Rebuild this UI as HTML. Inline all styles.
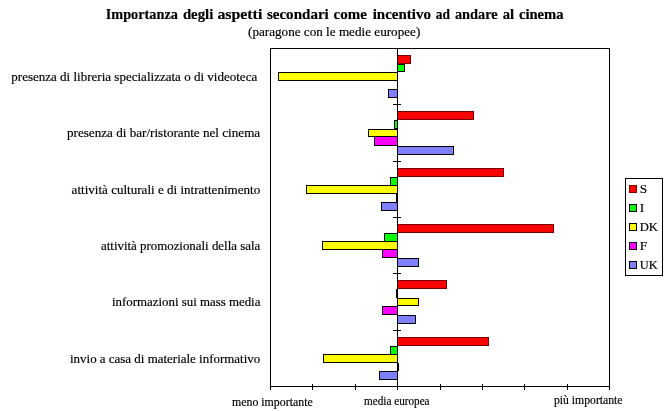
<!DOCTYPE html>
<html><head><meta charset="utf-8"><title>Importanza degli aspetti secondari</title>
<style>
html,body{margin:0;padding:0;background:#fff}
body{width:667px;height:411px;position:relative;overflow:hidden}
svg text{font-family:"Liberation Serif",serif;fill:#000;white-space:pre;stroke:#000;stroke-width:0.18px}
</style></head><body>
<svg width="667" height="411" viewBox="0 0 667 411" style="position:absolute;left:0;top:0">
<g shape-rendering="crispEdges">
<rect x="397.5" y="55.5" width="13" height="8" fill="#ff0000" stroke="#7a0000" stroke-width="1"/>
<rect x="397.5" y="64.5" width="7" height="7" fill="#00ff00" stroke="#000" stroke-width="1"/>
<rect x="278.5" y="72.5" width="119" height="8" fill="#ffff00" stroke="#000" stroke-width="1"/>
<rect x="388.5" y="89.5" width="9" height="8" fill="#8080ff" stroke="#000" stroke-width="1"/>
<rect x="397.5" y="111.5" width="76" height="8" fill="#ff0000" stroke="#7a0000" stroke-width="1"/>
<rect x="394.5" y="120.5" width="3" height="8" fill="#00ff00" stroke="#000" stroke-width="1"/>
<rect x="368.5" y="129.5" width="29" height="7" fill="#ffff00" stroke="#000" stroke-width="1"/>
<rect x="374.5" y="136.5" width="23" height="9" fill="#ff00ff" stroke="#000" stroke-width="1"/>
<rect x="397.5" y="146.5" width="56" height="8" fill="#8080ff" stroke="#000" stroke-width="1"/>
<rect x="397.5" y="168.5" width="106" height="8" fill="#ff0000" stroke="#7a0000" stroke-width="1"/>
<rect x="390.5" y="177.5" width="7" height="8" fill="#00ff00" stroke="#000" stroke-width="1"/>
<rect x="306.5" y="185.5" width="91" height="8" fill="#ffff00" stroke="#000" stroke-width="1"/>
<rect x="396" y="194" width="2" height="8" fill="#000"/>
<rect x="381.5" y="202.5" width="16" height="8" fill="#8080ff" stroke="#000" stroke-width="1"/>
<rect x="397.5" y="224.5" width="156" height="8" fill="#ff0000" stroke="#7a0000" stroke-width="1"/>
<rect x="384.5" y="233.5" width="13" height="8" fill="#00ff00" stroke="#000" stroke-width="1"/>
<rect x="322.5" y="241.5" width="75" height="8" fill="#ffff00" stroke="#000" stroke-width="1"/>
<rect x="382.5" y="249.5" width="15" height="8" fill="#ff00ff" stroke="#000" stroke-width="1"/>
<rect x="397.5" y="258.5" width="21" height="8" fill="#8080ff" stroke="#000" stroke-width="1"/>
<rect x="397.5" y="280.5" width="49" height="8" fill="#ff0000" stroke="#7a0000" stroke-width="1"/>
<rect x="396" y="289" width="2" height="9" fill="#000"/>
<rect x="397.5" y="298.5" width="21" height="7" fill="#ffff00" stroke="#000" stroke-width="1"/>
<rect x="382.5" y="306.5" width="15" height="8" fill="#ff00ff" stroke="#000" stroke-width="1"/>
<rect x="397.5" y="315.5" width="18" height="8" fill="#8080ff" stroke="#000" stroke-width="1"/>
<rect x="397.5" y="337.5" width="91" height="8" fill="#ff0000" stroke="#7a0000" stroke-width="1"/>
<rect x="390.5" y="346.5" width="7" height="8" fill="#00ff00" stroke="#000" stroke-width="1"/>
<rect x="323.5" y="354.5" width="74" height="8" fill="#ffff00" stroke="#000" stroke-width="1"/>
<rect x="397" y="363" width="2" height="8" fill="#000"/>
<rect x="379.5" y="371.5" width="18" height="8" fill="#8080ff" stroke="#000" stroke-width="1"/>
<rect x="270.5" y="48.5" width="339" height="338" fill="none" stroke="#000" stroke-width="1"/>
<rect x="397" y="48" width="1" height="338" fill="#000"/>
<rect x="393" y="104" width="8" height="1" fill="#000"/>
<rect x="393" y="161" width="8" height="1" fill="#000"/>
<rect x="393" y="217" width="8" height="1" fill="#000"/>
<rect x="393" y="273" width="8" height="1" fill="#000"/>
<rect x="393" y="330" width="8" height="1" fill="#000"/>
<rect x="270" y="384" width="1" height="6" fill="#000"/>
<rect x="312" y="384" width="1" height="6" fill="#000"/>
<rect x="355" y="384" width="1" height="6" fill="#000"/>
<rect x="397" y="384" width="1" height="6" fill="#000"/>
<rect x="440" y="384" width="1" height="6" fill="#000"/>
<rect x="482" y="384" width="1" height="6" fill="#000"/>
<rect x="524" y="384" width="1" height="6" fill="#000"/>
<rect x="567" y="384" width="1" height="6" fill="#000"/>
<rect x="609" y="384" width="1" height="6" fill="#000"/>
<rect x="625.5" y="178.5" width="37" height="97" fill="#fff" stroke="#000"/>
<rect x="629.5" y="185.5" width="7" height="7" fill="#ff0000" stroke="#7a0000"/>
<rect x="629.5" y="204.5" width="7" height="7" fill="#00ff00" stroke="#000"/>
<rect x="629.5" y="223.5" width="7" height="7" fill="#ffff00" stroke="#000"/>
<rect x="629.5" y="242.5" width="7" height="7" fill="#ff00ff" stroke="#000"/>
<rect x="629.5" y="261.5" width="7" height="7" fill="#8080ff" stroke="#000"/>
</g>
<text y="19" font-size="14.67" font-weight="bold"><tspan x="105.7" textLength="72.2" lengthAdjust="spacingAndGlyphs">Importanza</tspan> <tspan x="182.9" textLength="30.4" lengthAdjust="spacingAndGlyphs">degli</tspan> <tspan x="217.4" textLength="44.9" lengthAdjust="spacingAndGlyphs">aspetti</tspan> <tspan x="266.9" textLength="61.9" lengthAdjust="spacingAndGlyphs">secondari</tspan> <tspan x="333.5" textLength="33.3" lengthAdjust="spacingAndGlyphs">come</tspan> <tspan x="372.7" textLength="58.3" lengthAdjust="spacingAndGlyphs">incentivo</tspan> <tspan x="435.8" textLength="14.2" lengthAdjust="spacingAndGlyphs">ad</tspan> <tspan x="454.9" textLength="42.8" lengthAdjust="spacingAndGlyphs">andare</tspan> <tspan x="502.7" textLength="11.4" lengthAdjust="spacingAndGlyphs">al</tspan> <tspan x="518.9" textLength="44.7" lengthAdjust="spacingAndGlyphs">cinema</tspan></text>
<text x="248" y="36" font-size="13.33" textLength="172.3" lengthAdjust="spacingAndGlyphs">(paragone con le medie europee)</text>
<text x="11.3" y="81" font-size="13.33" textLength="245.9" lengthAdjust="spacingAndGlyphs">presenza di libreria specializzata o di videoteca</text>
<text x="67" y="137" font-size="13.33" textLength="193.2" lengthAdjust="spacingAndGlyphs">presenza di bar/ristorante nel cinema</text>
<text x="71.6" y="194" font-size="13.33" textLength="188.6" lengthAdjust="spacingAndGlyphs">attività culturali e di intrattenimento</text>
<text x="101" y="250" font-size="13.33" textLength="159.2" lengthAdjust="spacingAndGlyphs">attività promozionali della sala</text>
<text x="112" y="305.6" font-size="13.33" textLength="148.4" lengthAdjust="spacingAndGlyphs">informazioni sui mass media</text>
<text x="70" y="362.8" font-size="13.33" textLength="190.2" lengthAdjust="spacingAndGlyphs">invio a casa di materiale informativo</text>
<text x="232" y="406" font-size="12.6" textLength="80.7" lengthAdjust="spacingAndGlyphs">meno importante</text>
<text x="364" y="405" font-size="12.6" textLength="65.6" lengthAdjust="spacingAndGlyphs">media europea</text>
<text x="554" y="404" font-size="12.6" textLength="68.5" lengthAdjust="spacingAndGlyphs">più importante</text>
<text x="639.7" y="193" font-size="13.33">S</text>
<text x="639.7" y="212" font-size="13.33">I</text>
<text x="639.7" y="231" font-size="13.33" textLength="18.3" lengthAdjust="spacingAndGlyphs">DK</text>
<text x="639.7" y="250" font-size="13.33">F</text>
<text x="639.7" y="269" font-size="13.33" textLength="18.0" lengthAdjust="spacingAndGlyphs">UK</text>
</svg>
</body></html>
